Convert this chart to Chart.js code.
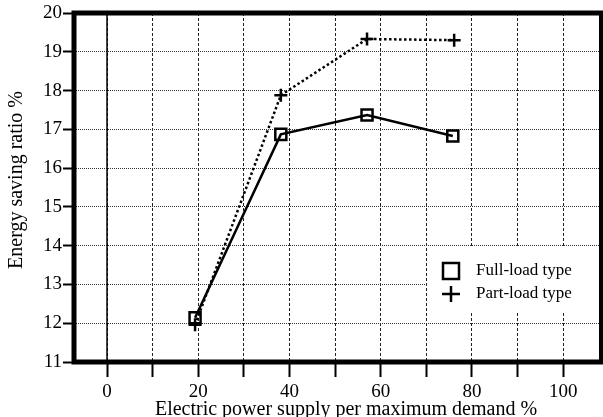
<!DOCTYPE html>
<html>
<head>
<meta charset="utf-8">
<script src="https://cdn.jsdelivr.net/npm/chart.js@4.4.1/dist/chart.umd.min.js"></script>
<style>
  html, body { margin: 0; padding: 0; background: #ffffff; }
</style>
</head>
<body>
<canvas id="savingChart" width="603" height="417"></canvas>
<script>
Chart.defaults.color = "#000000";
Chart.defaults.font.family = "'Liberation Serif', 'Times New Roman', serif";

// values
const supplyFull = [19.3, 38.1, 57.0, 75.8];
const savingFull = [12.14, 16.87, 17.37, 16.83];
const supplyPart = [19.3, 38.1, 57.0, 76.1];
const savingPart = [11.96, 17.88, 19.33, 19.30];
const seriesNames = ["Full-load type", "Part-load type"];
const xLabelled = [0, 20, 40, 60, 80, 100];
const xTitle = "Electric power supply per maximum demand %";
const yTitle = "Energy saving ratio %";

const toPoints = (xs, ys) => xs.map((x, i) => ({ x: x, y: ys[i] }));

// solid line at x = 0, frame, boxed legend and the axis titles
const framePlugin = {
  id: 'frame',
  beforeDatasetsDraw(chart) {
    const { ctx, chartArea: a, scales: { x } } = chart;
    const px = x.getPixelForValue(0);
    ctx.save();
    ctx.strokeStyle = '#000';
    ctx.lineWidth = 1.5;
    ctx.beginPath();
    ctx.moveTo(px, a.top);
    ctx.lineTo(px, a.bottom);
    ctx.stroke();
    ctx.restore();
  },
  afterDatasetsDraw(chart) {
    const { ctx, chartArea: a } = chart;
    ctx.save();
    // legend
    ctx.fillStyle = '#fff';
    ctx.fillRect(427, 248, a.right - 427, 63);
    ctx.strokeStyle = '#000';
    ctx.fillStyle = '#000';
    ctx.lineWidth = 2.5;
    ctx.strokeRect(443, 263, 16, 16);
    ctx.beginPath();
    ctx.moveTo(442, 294); ctx.lineTo(460, 294);
    ctx.moveTo(451, 286); ctx.lineTo(451, 302);
    ctx.stroke();
    ctx.font = "17px 'Liberation Serif'";
    ctx.textBaseline = 'middle';
    ctx.textAlign = 'left';
    ctx.fillText(chart.data.datasets[0].label, 476, 271);
    ctx.fillText(chart.data.datasets[1].label, 476, 294);
    // frame
    ctx.lineWidth = 5;
    ctx.strokeRect(a.left, a.top, a.right - a.left, a.bottom - a.top);
    ctx.restore();
  },
  afterDraw(chart) {
    const { ctx } = chart;
    ctx.save();
    ctx.fillStyle = '#000';
    ctx.font = "20px 'Liberation Serif'";
    ctx.textAlign = 'center';
    ctx.textBaseline = 'alphabetic';
    ctx.fillText(xTitle, 346, 415);
    ctx.translate(22, 180);
    ctx.rotate(-Math.PI / 2);
    ctx.fillText(yTitle, 0, 0);
    ctx.restore();
  }
};

const ctx = document.getElementById('savingChart').getContext('2d');

const chart = new Chart(ctx, {
  type: 'scatter',
  data: {
    datasets: [
      {
        label: seriesNames[0],
        data: toPoints(supplyFull, savingFull),
        showLine: true,
        borderColor: '#000',
        borderWidth: 2.5,
        pointStyle: 'rect',
        pointRadius: 7.8,
        pointBorderWidth: 2.5,
        pointBorderColor: '#000',
        pointBackgroundColor: 'rgba(0,0,0,0)',
      },
      {
        label: seriesNames[1],
        data: toPoints(supplyPart, savingPart),
        showLine: true,
        borderColor: '#000',
        borderWidth: 2.5,
        borderDash: [2.5, 2.5],
        pointStyle: 'cross',
        pointRadius: 6.5,
        pointBorderWidth: 2.5,
        pointBorderColor: '#000',
      },
    ]
  },
  options: {
    responsive: false,
    animation: false,
    layout: {
      autoPadding: false,
      padding: { top: 13, right: 1.5, left: 0, bottom: 0 },
    },
    plugins: {
      legend: { display: false },
      tooltip: { enabled: false },
    },
    scales: {
      x: {
        min: -7.24,
        max: 108.4,
        afterFit: (scale) => {
          scale.height = 55;
          scale.paddingLeft = 0;
          scale.paddingRight = 0;
        },
        border: { display: false, dash: [3, 2] },
        grid: {
          color: '#222',
          lineWidth: 1,
          tickLength: 15,
          tickColor: '#000',
          tickWidth: 2,
        },
        ticks: {
          stepSize: 10,
          includeBounds: false,
          maxTicksLimit: 20,
          autoSkip: false,
          maxRotation: 0,
          padding: 4,
          font: { size: 19 },
          callback: (v) => xLabelled.includes(v) ? String(v) : '',
        },
      },
      y: {
        min: 11,
        max: 20,
        afterFit: (scale) => {
          scale.width = 74;
          scale.paddingTop = 0;
          scale.paddingBottom = 0;
        },
        border: { display: false, dash: [1, 1] },
        grid: {
          color: '#333',
          lineWidth: 1,
          tickLength: 11,
          tickColor: '#000',
          tickWidth: 2,
        },
        ticks: {
          stepSize: 1,
          padding: 1,
          font: { size: 19 },
        },
      },
    }
  },
  plugins: [framePlugin]
});
</script>
</body>
</html>
